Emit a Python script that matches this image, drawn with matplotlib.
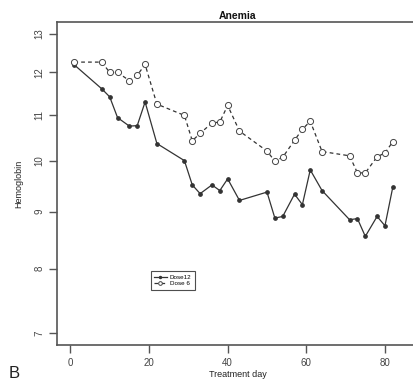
import matplotlib
matplotlib.use("Agg")
import matplotlib.pyplot as plt
from matplotlib.ticker import FixedLocator, FixedFormatter, NullLocator

plt.rcParams['font.family'] = ['Liberation Sans', 'DejaVu Sans']

days12 = [1, 8, 10, 12, 15, 17, 19, 22, 29, 31, 33, 36, 38, 40, 43, 50, 52, 54,
          57, 59, 61, 64, 71, 73, 75, 78, 80, 82]
dose12 = [12.19, 11.60, 11.41, 10.93, 10.74, 10.75, 11.29, 10.36, 10.00, 9.51, 9.34,
          9.51, 9.40, 9.63, 9.21, 9.37, 8.88, 8.91, 9.33, 9.13, 9.81, 9.40, 8.85,
          8.87, 8.55, 8.91, 8.74, 9.47]

days6 = [1, 8, 10, 12, 15, 17, 19, 22, 29, 31, 33, 36, 38, 40, 43, 50, 52, 54,
         57, 59, 61, 64, 71, 73, 75, 78, 80, 82]
dose6 = [12.26, 12.26, 12.00, 12.00, 11.80, 11.93, 12.20, 11.24, 10.98, 10.42, 10.58,
         10.81, 10.83, 11.21, 10.63, 10.20, 9.99, 10.07, 10.43, 10.67, 10.85, 10.19,
         10.10, 9.75, 9.75, 10.08, 10.16, 10.40]

xticks = [0, 20, 40, 60, 80]
yticks = [7, 8, 9, 10, 11, 12, 13]
ytick_labels = ["7", "8", "9", "10", "11", "12", "13"]

W, H = 413, 384
fig = plt.figure(figsize=(W / 100, H / 100), dpi=100)
ax = fig.add_axes([57 / W, 39 / H, (418 - 57) / W, 323 / H])

lc = "#333333"
ax.plot(days12, dose12, color=lc, lw=0.9, marker="o", ms=2.4, mfc=lc, mec=lc,
        label="Dose12")
ax.plot(days6, dose6, color=lc, lw=0.9, ls=(0, (3, 2.5)), marker="o", ms=4.4,
        mfc="white", mec="#444444", mew=0.7, label="Dose 6")

ax.set_yscale("log")
ax.set_ylim(6.83, 13.32)
ax.set_xlim(-3.4, 88.4)
ax.yaxis.set_major_locator(FixedLocator(yticks))
ax.yaxis.set_major_formatter(FixedFormatter(ytick_labels))
ax.yaxis.set_minor_locator(NullLocator())
ax.set_xticks(xticks)
ax.set_xticklabels([str(t) for t in xticks])

for s in ax.spines.values():
    s.set_color("#555555")
    s.set_linewidth(1.2)

ax.tick_params(axis="both", colors="#555555", labelcolor="#444444", labelsize=7,
               length=6, width=1.0, direction="out")
ax.tick_params(axis="y", pad=3)
for lbl in ax.get_yticklabels():
    lbl.set_rotation(90)
    lbl.set_va("center")

ax.set_xlabel("Treatment day", fontsize=6.5, color="#222222", labelpad=1)
ax.set_ylabel("Hemoglobin", fontsize=6.5, color="#222222", labelpad=8)
ax.set_title("Anemia", fontsize=7.5, fontweight="bold", pad=2.5, color="#111111")

leg = ax.legend(loc="upper left", bbox_to_anchor=(0.252, 0.238), fontsize=4.5,
                frameon=True, fancybox=False, edgecolor="#222222",
                handlelength=2.0, borderpad=0.5, labelspacing=0.2,
                handletextpad=0.5, markerscale=0.6)
leg.get_frame().set_linewidth(0.8)

fig.text(14 / W, 1 - 373 / H, "B", fontsize=12, color="#222222",
         ha="center", va="center")

fig.savefig("out.png", dpi=100)
